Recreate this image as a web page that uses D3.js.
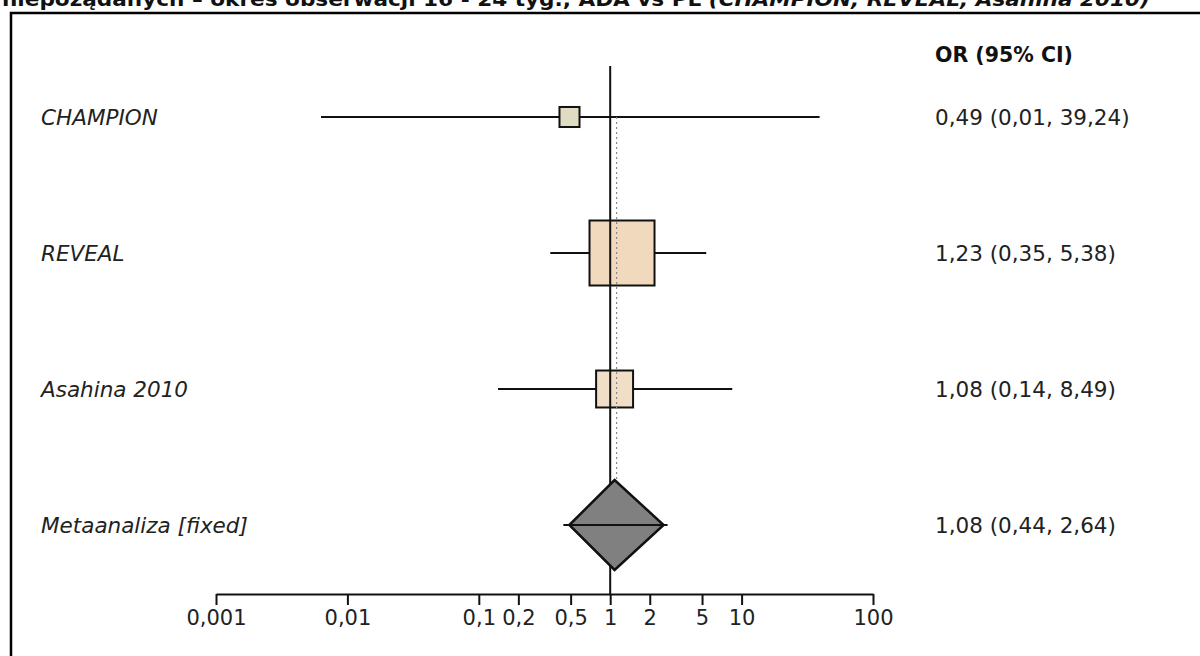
<!DOCTYPE html>
<html>
<head>
<meta charset="utf-8">
<script src="https://cdn.jsdelivr.net/npm/d3@7"></script>
<style>
  html, body { margin: 0; padding: 0; background: #fff; }
  svg { display: block; font-family: "DejaVu Sans", Verdana, sans-serif; }
</style>
</head>
<body>
<div class="canvas"></div>
<script>
// study rows
const studies = ['CHAMPION', 'REVEAL', 'Asahina 2010', 'Metaanaliza [fixed]'];
const orValues = [0.49, 1.23, 1.08, 1.08];
const ciLow = [0.0063, 0.35, 0.14, 0.44];
const ciHigh = [39.24, 5.38, 8.49, 2.64];
const weights = [6.7, 70.5, 22.8, null];
const orLabels = ['0,49 (0,01, 39,24)', '1,23 (0,35, 5,38)', '1,08 (0,14, 8,49)', '1,08 (0,44, 2,64)'];
const boxColors = ['#dfdcc3', '#f1d9bd', '#f0dfc6'];

const tickValues = [0.001, 0.01, 0.1, 0.2, 0.5, 1, 2, 5, 10, 100];
const tickLabels = ['0,001', '0,01', '0,1', '0,2', '0,5', '1', '2', '5', '10', '100'];

const pooled = orValues[3];

const dims = { width: 1200, height: 656 };

const svg = d3.select('.canvas')
  .append('svg')
  .attr('width', dims.width)
  .attr('height', dims.height);

const x = d3.scaleLog().domain([0.001, 100]).range([216, 873]);
const y = d3.scalePoint().domain(studies).range([117, 525]);
const side = d3.scaleSqrt().domain([0, 70.5]).range([0, 65]);

// title (cut off at the top, as in the source) and frame
const title = svg.append('text')
  .attr('x', 2)
  .attr('y', 6)
  .attr('font-size', 20)
  .attr('font-weight', 'bold')
  .attr('fill', '#111')
  .attr('textLength', 1148)
  .attr('lengthAdjust', 'spacingAndGlyphs');
title.append('tspan').text('niepożądanych – okres obserwacji 16 - 24 tyg., ADA vs PL ');
title.append('tspan').attr('font-style', 'italic').text('(CHAMPION, REVEAL, Asahina 2010)');

svg.append('path')
  .attr('d', `M11,${dims.height + 5} V13 H${dims.width + 5}`)
  .attr('fill', 'none')
  .attr('stroke', '#000')
  .attr('stroke-width', 2.5);

// axis
const axis = svg.append('g')
  .attr('transform', 'translate(0, 594)')
  .call(d3.axisBottom(x)
    .tickValues(tickValues)
    .tickFormat((d, i) => tickLabels[i])
    .tickSize(11)
    .tickSizeOuter(0)
    .tickPadding(5));

axis.select('.domain').attr('stroke', '#111').attr('stroke-width', 2);
axis.selectAll('.tick line').attr('stroke', '#111').attr('stroke-width', 2);
axis.selectAll('.tick text')
  .attr('font-size', 21)
  .attr('font-family', '"DejaVu Sans", Verdana, sans-serif')
  .attr('fill', '#222');

const rows = studies.slice(0, 3).map((s, i) => ({
  name: s, or: orValues[i], lo: ciLow[i], hi: ciHigh[i], w: weights[i], color: boxColors[i]
}));

// CI lines
svg.selectAll('.ci')
  .data(rows)
  .enter().append('line')
  .attr('class', 'ci')
  .attr('x1', d => x(d.lo))
  .attr('x2', d => x(d.hi))
  .attr('y1', d => y(d.name))
  .attr('y2', d => y(d.name))
  .attr('stroke', '#111')
  .attr('stroke-width', 2);

// boxes
svg.selectAll('.box')
  .data(rows)
  .enter().append('rect')
  .attr('class', 'box')
  .attr('x', d => x(d.or) - side(d.w) / 2)
  .attr('y', d => y(d.name) - side(d.w) / 2)
  .attr('width', d => side(d.w))
  .attr('height', d => side(d.w))
  .attr('fill', d => d.color)
  .attr('stroke', '#111')
  .attr('stroke-width', 2);

// line of no effect (over the boxes, under the diamond)
svg.append('line')
  .attr('x1', x(1)).attr('x2', x(1))
  .attr('y1', 66).attr('y2', 594)
  .attr('stroke', '#111')
  .attr('stroke-width', 2);

// pooled diamond
const my = y(studies[3]);
svg.append('path')
  .attr('d', `M${x(ciLow[3]) + 6},${my} L${x(pooled)},${my - 45} L${x(ciHigh[3]) - 2},${my} L${x(pooled)},${my + 45} Z`)
  .attr('fill', '#808080')
  .attr('stroke', '#111')
  .attr('stroke-width', 2.5)
  .attr('stroke-linejoin', 'miter');

svg.append('line')
  .attr('x1', x(ciLow[3]))
  .attr('x2', x(ciHigh[3]) + 2)
  .attr('y1', my)
  .attr('y2', my)
  .attr('stroke', '#111')
  .attr('stroke-width', 2);

// pooled estimate dotted line
svg.append('line')
  .attr('x1', x(pooled) + 2).attr('x2', x(pooled) + 2)
  .attr('y1', y(studies[0])).attr('y2', my - 45)
  .attr('stroke', '#888')
  .attr('stroke-width', 1.2)
  .attr('stroke-dasharray', '2,3');

// left labels
svg.selectAll('.label')
  .data(studies)
  .enter().append('text')
  .attr('class', 'label')
  .attr('x', 41)
  .attr('y', d => y(d))
  .attr('dy', '0.36em')
  .attr('font-size', 21.5)
  .attr('font-style', 'italic')
  .attr('fill', '#222')
  .text(d => d);

// right column
svg.append('text')
  .attr('x', 935)
  .attr('y', 55)
  .attr('dy', '0.36em')
  .attr('font-size', 20.5)
  .attr('font-weight', 'bold')
  .attr('fill', '#111')
  .text('OR (95% CI)');

svg.selectAll('.orlab')
  .data(studies)
  .enter().append('text')
  .attr('class', 'orlab')
  .attr('x', 935)
  .attr('y', d => y(d))
  .attr('dy', '0.36em')
  .attr('font-size', 21.5)
  .attr('fill', '#222')
  .text((d, i) => orLabels[i]);
</script>
</body>
</html>
